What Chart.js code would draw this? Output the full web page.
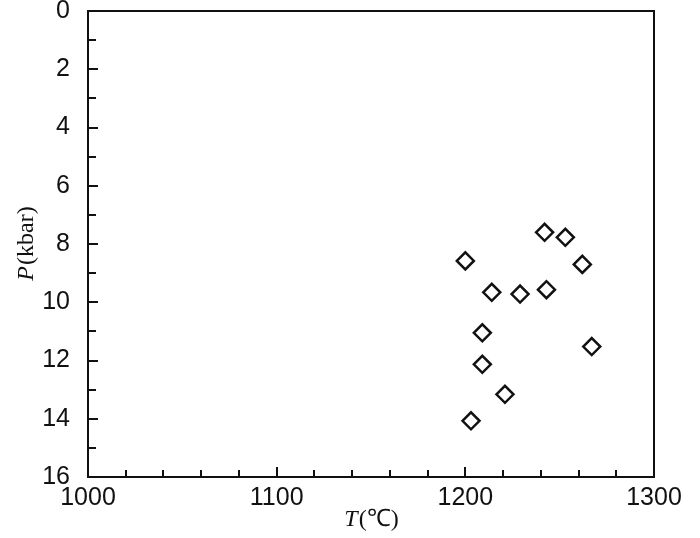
<!DOCTYPE html>
<html>
<head>
<meta charset="utf-8">
<script src="https://cdn.jsdelivr.net/npm/chart.js@4.4.0/dist/chart.umd.min.js"></script>
<style>
  html, body { margin: 0; padding: 0; background: #fff; }
  #wrap { width: 700px; height: 538px; }
</style>
</head>
<body>
<div id="wrap"><canvas id="mainChart" width="700" height="538"></canvas></div>
<script>
// T (°C) and P (kbar)
const temperature = [1242, 1253, 1200, 1262, 1214, 1229, 1243, 1209, 1267, 1209, 1221, 1203];
const pressure = [7.6, 7.77, 8.58, 8.7, 9.66, 9.72, 9.57, 11.05, 11.52, 12.13, 13.16, 14.07];

const xTicks = [1000, 1100, 1200, 1300];
const yTicks = [0, 2, 4, 6, 8, 10, 12, 14, 16];

const ink = '#111';

// inward tick marks + closed frame + axis titles (italic symbol, upright unit)
const framePlugin = {
  id: 'frame',
  afterDraw(chart) {
    const { ctx, chartArea: a, scales } = chart;
    ctx.save();
    ctx.strokeStyle = ink;
    ctx.lineWidth = 2;

    ctx.beginPath();
    for (let v = 0; v <= 16; v++) {
      const y = Math.round(scales.y.getPixelForValue(v));
      const len = yTicks.includes(v) ? 10 : 8;
      ctx.moveTo(a.left, y);
      ctx.lineTo(a.left + len, y);
    }
    for (let v = 1000; v <= 1300; v += 20) {
      const x = Math.round(scales.x.getPixelForValue(v));
      const len = v % 100 === 0 ? 10 : 7;
      ctx.moveTo(x, a.bottom);
      ctx.lineTo(x, a.bottom - len);
    }
    ctx.stroke();

    ctx.strokeRect(a.left, a.top, a.right - a.left, a.bottom - a.top);

    ctx.fillStyle = ink;
    ctx.textBaseline = 'middle';
    const italic = 'italic 24px "Liberation Serif", serif';
    const upright = '24px "Liberation Serif", serif';

    // x title
    ctx.font = italic;
    const wT = ctx.measureText('T').width;
    ctx.font = upright;
    const wRest = ctx.measureText('(℃)').width;
    let x0 = (a.left + a.right) / 2 - (wT + wRest) / 2;
    ctx.textAlign = 'left';
    ctx.font = italic;
    ctx.fillText('T', x0, 520);
    ctx.font = upright;
    ctx.fillText('(℃)', x0 + wT + 1, 520);

    // y title
    ctx.translate(27, (a.top + a.bottom) / 2);
    ctx.rotate(-Math.PI / 2);
    ctx.font = italic;
    const wP = ctx.measureText('P').width;
    ctx.font = upright;
    const wUnit = ctx.measureText('(kbar)').width;
    x0 = -(wP + wUnit) / 2;
    ctx.font = italic;
    ctx.fillText('P', x0, 0);
    ctx.font = upright;
    ctx.fillText('(kbar)', x0 + wP + 1, 0);
    ctx.restore();
  }
};

const ctx = document.getElementById('mainChart').getContext('2d');
const chart = new Chart(ctx, {
  type: 'scatter',
  data: {
    datasets: [{
      data: temperature.map((t, i) => ({ x: t, y: pressure[i] })),
      pointStyle: 'rectRot',
      pointRadius: 8.5,
      pointBorderWidth: 2.5,
      borderColor: ink,
      backgroundColor: '#fff'
    }]
  },
  options: {
    responsive: false,
    animation: false,
    layout: { padding: { top: 10, right: 46, left: 0, bottom: 0 } },
    plugins: {
      legend: { display: false },
      tooltip: { enabled: false }
    },
    scales: {
      x: {
        type: 'linear',
        min: 1000,
        max: 1300,
        afterBuildTicks: s => { s.ticks = xTicks.map(v => ({ value: v })); },
        afterFit: s => { s.height = 61; s.paddingLeft = 0; s.paddingRight = 0; },
        grid: { display: false, drawTicks: false },
        border: { display: false },
        ticks: {
          padding: 6,
          color: ink,
          font: { family: '"Liberation Sans", Arial, sans-serif', size: 25 },
          maxRotation: 0,
          callback: v => String(v)
        }
      },
      y: {
        type: 'linear',
        reverse: true,
        min: 0,
        max: 16,
        afterBuildTicks: s => { s.ticks = yTicks.map(v => ({ value: v })); },
        afterFit: s => { s.width = 88; s.paddingTop = 0; s.paddingBottom = 0; },
        grid: { display: false, drawTicks: false },
        border: { display: false },
        ticks: {
          padding: 18,
          color: ink,
          font: { family: '"Liberation Sans", Arial, sans-serif', size: 25 },
          callback: v => String(v)
        }
      }
    }
  },
  plugins: [framePlugin]
});
</script>
</body>
</html>
